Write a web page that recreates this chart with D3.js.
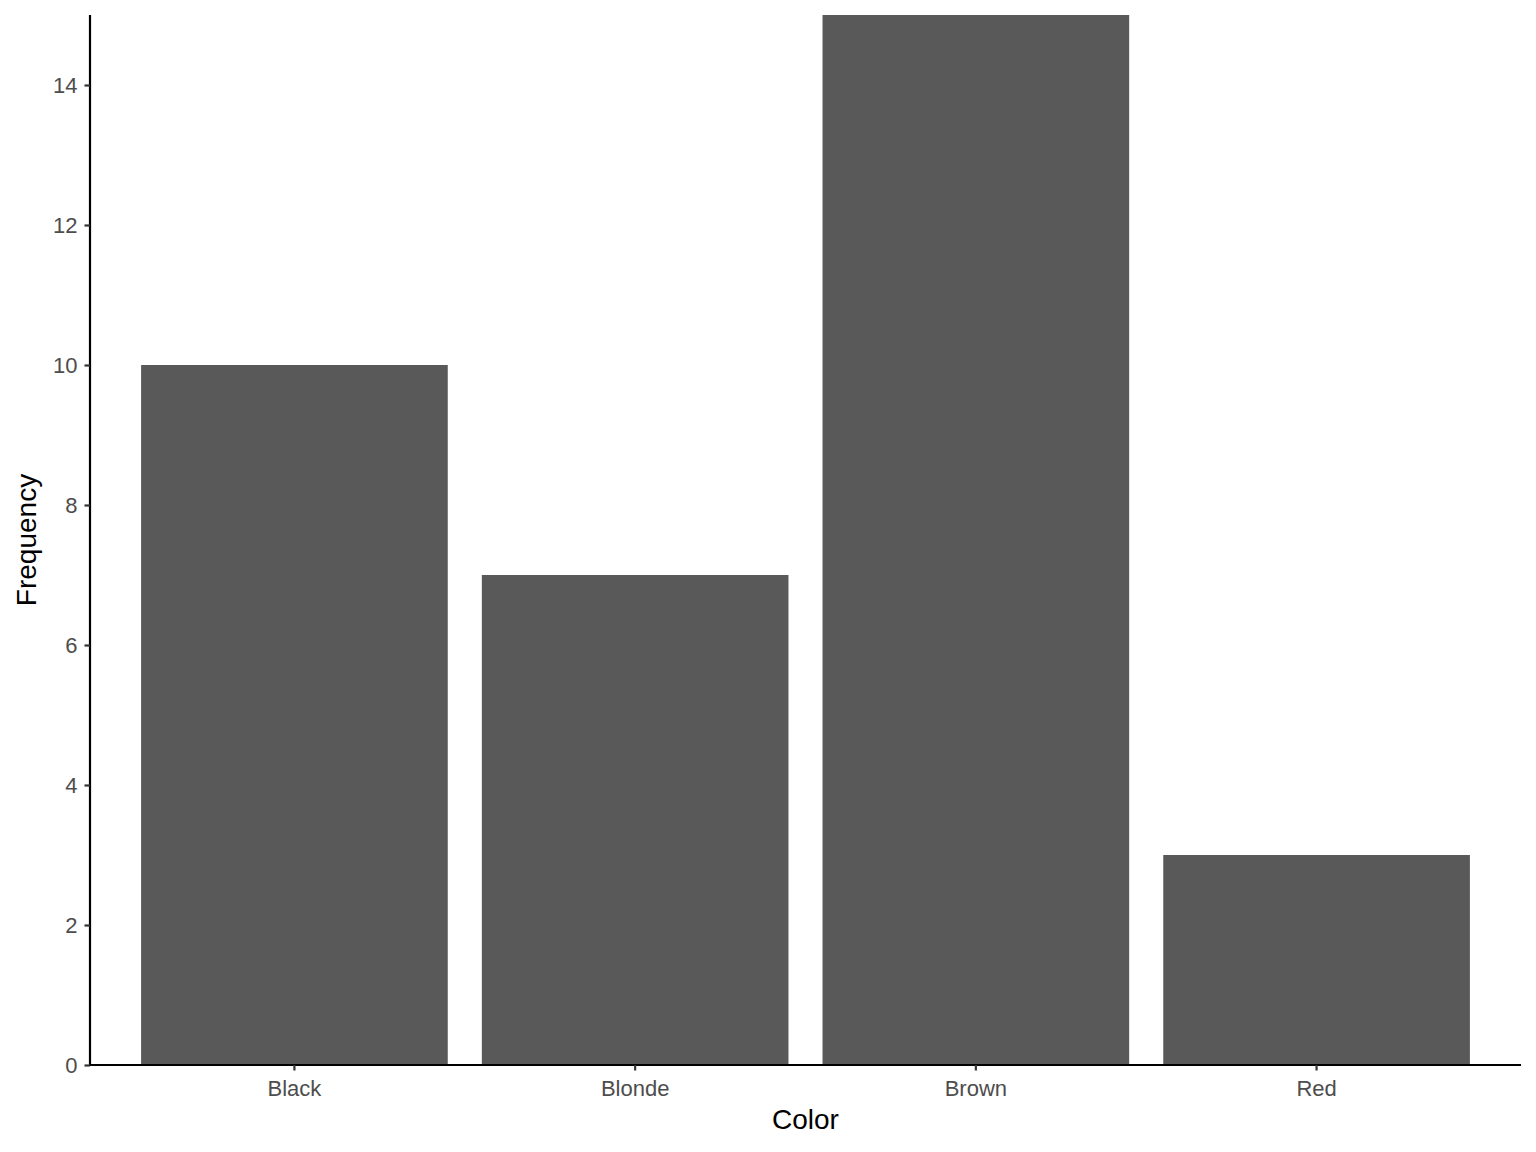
<!DOCTYPE html>
<html><head><meta charset="utf-8">
<script src="https://cdn.jsdelivr.net/npm/d3@7"></script>
<style>body{margin:0;background:#fff}svg{display:block}text{font-family:"Liberation Sans",Arial,sans-serif}</style>
</head><body>
<svg id="c" width="1536" height="1152"></svg>
<script>
const categories = ["Black", "Blonde", "Brown", "Red"];
const frequencies = [10, 7, 15, 3];
const yTicks = [0, 2, 4, 6, 8, 10, 12, 14];

(function () {
const svg = d3.select("#c");
const pL = 90, pR = 1521, pT = 15, pB = 1065;

const x = d3.scaleBand().domain(categories).range([pL, pR]).paddingInner(0.1).paddingOuter(0.15);
const y = d3.scaleLinear().domain([0, 15]).range([pB, pT]);

svg.selectAll("rect.bar").data(categories).join("rect")
  .attr("class", "bar")
  .attr("x", d => x(d))
  .attr("width", x.bandwidth())
  .attr("y", (d, i) => y(frequencies[i]))
  .attr("height", (d, i) => y(0) - y(frequencies[i]))
  .attr("fill", "#595959");

const yAxis = svg.append("g").attr("transform", `translate(${pL},0)`)
  .call(d3.axisLeft(y).tickValues(yTicks).tickSize(5.5).tickPadding(7).tickFormat(d3.format("d")));
yAxis.select(".domain").attr("stroke", "#000").attr("stroke-width", 2.2).attr("d", `M0,${pT}V${pB}`);
yAxis.selectAll(".tick line").attr("stroke", "#333").attr("stroke-width", 2.2);
yAxis.selectAll(".tick text").attr("fill", "#4d4d4d").style("font-size", "22px");

const xAxis = svg.append("g").attr("transform", `translate(0,${pB})`)
  .call(d3.axisBottom(x).tickSize(5.5).tickPadding(10));
xAxis.select(".domain").attr("stroke", "#000").attr("stroke-width", 2.2).attr("d", `M${pL},0H${pR}`);
xAxis.selectAll(".tick line").attr("stroke", "#333").attr("stroke-width", 2.2);
xAxis.selectAll(".tick text").attr("fill", "#4d4d4d").style("font-size", "22px");

svg.append("text").attr("x", (pL + pR) / 2).attr("y", 1129)
  .attr("text-anchor", "middle").attr("fill", "#000").style("font-size", "28px").text("Color");
svg.append("text").attr("transform", `translate(36,${(pT + pB) / 2}) rotate(-90)`)
  .attr("text-anchor", "middle").attr("fill", "#000").style("font-size", "28px").text("Frequency");
})();
</script>
</body></html>
